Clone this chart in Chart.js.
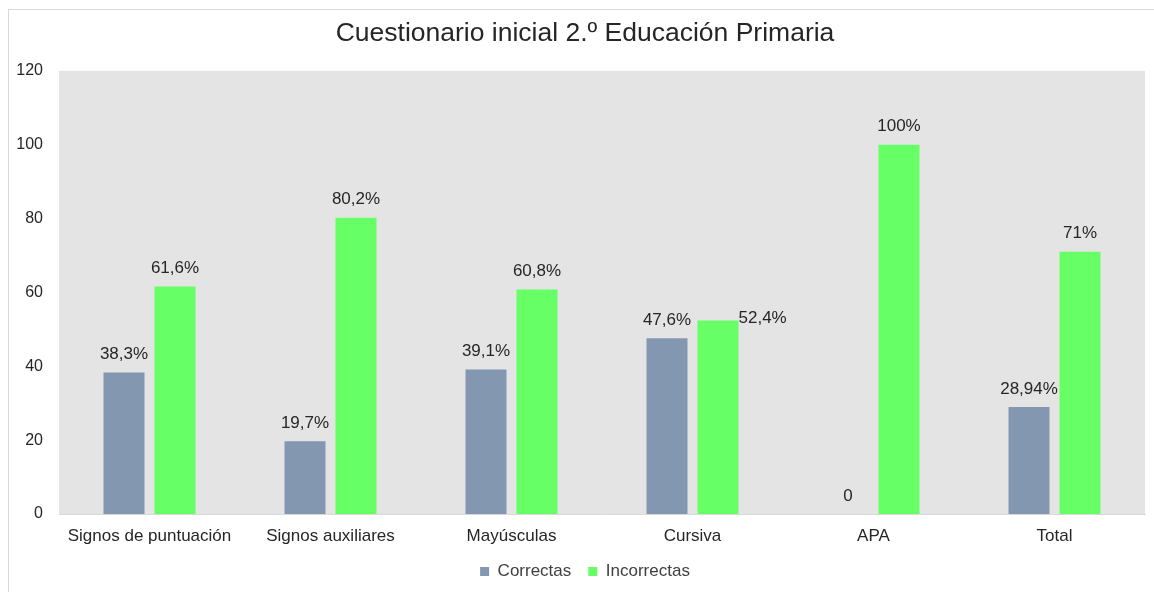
<!DOCTYPE html>
<html>
<head>
<meta charset="utf-8">
<script src="https://cdn.jsdelivr.net/npm/chart.js@4.4.1/dist/chart.umd.min.js"></script>
<style>
  html, body { margin: 0; padding: 0; background: #fff; overflow: hidden; }
  #wrap {
    position: absolute; left: 8px; top: 9px;
    width: 1154px; height: 600px;
    border: 1px solid #d9d9d9; box-sizing: border-box;
  }
</style>
</head>
<body>
<div id="wrap"><canvas id="grafico"></canvas></div>
<script>
const categorias = ["Signos de puntuación", "Signos auxiliares", "Mayúsculas", "Cursiva", "APA", "Total"];
const correctas = [38.3, 19.7, 39.1, 47.6, 0, 28.94];
const incorrectas = [61.6, 80.2, 60.8, 52.4, 100, 71];
const ticksY = [0, 20, 40, 60, 80, 100, 120];

// 38.3 -> "38,3%", 0 -> "0"
function etiqueta(v) {
  if (v === 0) return "0";
  return String(v).replace(".", ",") + "%";
}

// fondo gris del área de trazado
const fondoArea = {
  id: "fondoArea",
  beforeDraw(chart) {
    const { ctx, chartArea: a } = chart;
    ctx.save();
    ctx.fillStyle = "#e4e4e4";
    ctx.fillRect(a.left, a.top, a.right - a.left, a.bottom - a.top);
    ctx.restore();
  }
};

// etiquetas de valor encima de cada barra
const etiquetas = {
  id: "etiquetas",
  afterDatasetsDraw(chart, args, opts) {
    const ctx = chart.ctx;
    ctx.save();
    ctx.font = "17px 'Liberation Sans', Arial, sans-serif";
    ctx.fillStyle = "#262626";
    ctx.textBaseline = "middle";
    chart.data.datasets.forEach((ds, di) => {
      chart.getDatasetMeta(di).data.forEach((bar, i) => {
        const txt = etiqueta(ds.data[i]);
        const lado = (opts.aLaDerecha || []).find(p => p.ds === di && p.i === i);
        if (lado) {
          ctx.textAlign = "left";
          ctx.fillText(txt, bar.x + bar.width / 2, bar.y - 2);
        } else {
          ctx.textAlign = "center";
          ctx.fillText(txt, bar.x, bar.y - 18);
        }
      });
    });
    ctx.restore();
  }
};

Chart.defaults.font.family = "'Liberation Sans', Arial, sans-serif";
Chart.defaults.color = "#404040";

new Chart(document.getElementById("grafico"), {
  type: "bar",
  data: {
    labels: categorias,
    datasets: [
      { label: "Correctas", data: correctas, backgroundColor: "#8497b0" },
      { label: "Incorrectas", data: incorrectas, backgroundColor: "#66ff66" }
    ]
  },
  options: {
    responsive: true,
    maintainAspectRatio: false,
    animation: false,
    categoryPercentage: 0.5635,
    barPercentage: 0.804,
    layout: { padding: { left: 7, right: 7, top: 0, bottom: 18 } },
    plugins: {
      title: {
        display: true,
        text: "Cuestionario inicial 2.º Educación Primaria",
        color: "#262626",
        font: { size: 26.5, weight: "normal" },
        padding: { top: 8, bottom: 21 }
      },
      legend: {
        position: "bottom",
        labels: {
          boxWidth: 9, boxHeight: 9, padding: 17,
          font: { size: 17 }, color: "#404040"
        }
      },
      tooltip: { enabled: false },
      etiquetas: { aLaDerecha: [{ ds: 1, i: 3 }] }
    },
    scales: {
      x: {
        afterFit(scale) {
          scale.height = 32;
          scale.paddingLeft = 0;
          scale.paddingRight = 16; // hueco a la derecha del área gris
        },
        grid: { display: false, drawTicks: false },
        border: { display: true, color: "#d9d9d9", width: 1 },
        ticks: { font: { size: 17 }, padding: 12, color: "#262626" }
      },
      y: {
        min: 0, max: 120,
        afterBuildTicks(scale) { scale.ticks = ticksY.map(v => ({ value: v })); },
        afterFit(scale) { scale.width = 43; },
        grid: { display: false, drawTicks: false },
        border: { display: false },
        ticks: { font: { size: 16 }, padding: 16, color: "#262626" }
      }
    }
  },
  plugins: [fondoArea, etiquetas]
});
</script>
</body>
</html>
